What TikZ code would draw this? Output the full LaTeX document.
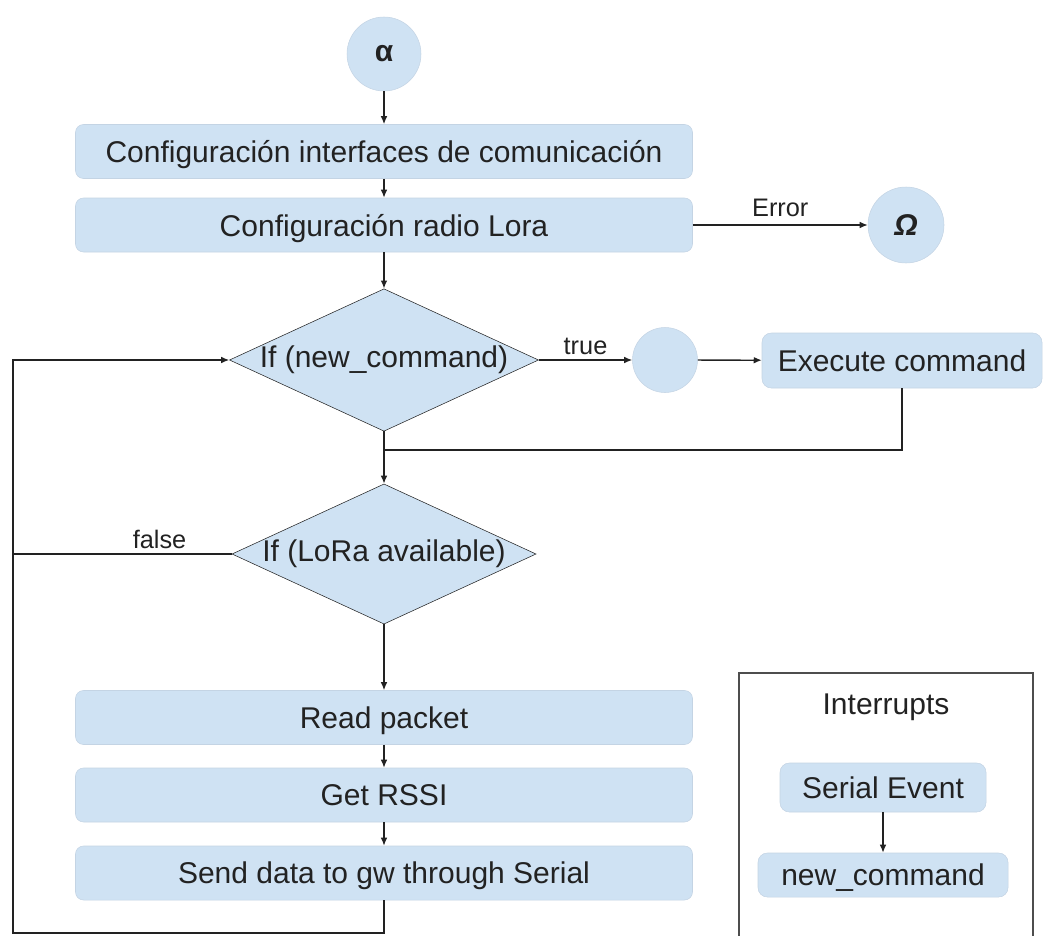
\documentclass[tikz,border=0pt]{standalone}
\usepackage{fontspec}
\setmainfont{Liberation Sans}
\usetikzlibrary{arrows.meta,shapes.geometric}
\definecolor{boxblue}{RGB}{207,226,243}
\definecolor{boxedge}{RGB}{196,212,228}
\definecolor{inkgray}{RGB}{34,34,34}

\begin{document}
\begin{tikzpicture}[x=0.75pt,y=0.75pt,yscale=-1,xscale=1,
  every node/.style={inner sep=0.75pt, text=inkgray, font=\fontsize{22.5}{26}\selectfont},
  blockbox/.style={draw=boxedge, fill=boxblue, rounded corners=6pt, text depth=0pt, minimum width=462.75pt, minimum height=40.5pt},
  smallbox/.style={draw=boxedge, fill=boxblue, rounded corners=7pt, text depth=0pt},
  decision/.style={diamond, draw=inkgray, fill=boxblue, inner sep=0pt, shape aspect=2.17, minimum width=228pt, minimum height=105pt},
  terminal/.style={circle, draw=boxedge, fill=boxblue, inner sep=0pt},
  edgelabel/.style={font=\fontsize{19}{22}\selectfont},
  flow/.style={draw=inkgray, line width=1pt},
  arr/.style={flow, -{Latex[length=6pt,width=5pt]}}
]
\useasboundingbox (0,0) rectangle (1044,935);

%Shape: Circle (start)
\node [terminal, minimum size=55.5pt] (alpha) at (384,54) {\textbf{α}};
%Shape: Rectangle
\node [blockbox] (confif) at (384,151.5) {Configuración interfaces de comunicación};
%Shape: Rectangle
\node [blockbox] (confradio) at (384,225) {Configuración radio Lora};
%Shape: Circle (end)
\node [terminal, minimum size=57pt] (omega) at (906,225) {\textbf{\textit{Ω}}};

%Shape: Diamond
\node [decision] (ifcmd) at (384,360) {If (new\_command)};
%Shape: Circle
\node [terminal, minimum size=48.75pt] (hub) at (665,360) {};
%Shape: Rectangle
\node [smallbox, minimum width=210pt, minimum height=41.25pt] (exec) at (902,360.5) {Execute command};

%Shape: Diamond
\node [decision] (iflora) at (384,554) {If (LoRa available)};

%Shape: Rectangle
\node [blockbox] (readpkt) at (384,717.5) {Read packet};
%Shape: Rectangle
\node [blockbox] (rssi) at (384,795) {Get RSSI};
%Shape: Rectangle
\node [blockbox] (senddata) at (384,873) {Send data to gw through Serial};

%Shape: Frame (interrupts)
\draw [draw=inkgray!80, line width=1pt] (739,945) -- (739,673) -- (1033,673) -- (1033,945);
% Text Node
\node (inttitle) at (886,707) {Interrupts};
%Shape: Rectangle
\node [smallbox, minimum width=154.5pt, minimum height=36.75pt] (serialev) at (883,787.5) {Serial Event};
%Shape: Rectangle
\node [smallbox, minimum width=187.5pt, minimum height=33pt] (newcmd) at (883,875) {new\_command};

%Coordinates for the return lines
\coordinate (join) at (384,450);
\coordinate (rail) at (13,554);
\coordinate (railbottom) at (13,933);

%Straight Lines
\draw [arr] (alpha) -- (confif);
\draw [arr] (confif) -- (confradio);
\draw [arr] (confradio) -- (ifcmd);
\draw [arr] (confradio.east) -- (omega) node [midway, above=5pt, edgelabel] {Error};
\draw [arr] (ifcmd) -- (hub) node [midway, above=3pt, edgelabel] {true};
\draw [arr] (hub) -- (exec);
\draw [flow] (exec.south) |- (join);
\draw [arr] (ifcmd) -- (iflora);
\draw [arr] (iflora.west) -- (rail) node [pos=0.33, above=3pt, edgelabel] {false} |- (ifcmd.west);
\draw [arr] (iflora) -- (readpkt);
\draw [arr] (readpkt) -- (rssi);
\draw [arr] (rssi) -- (senddata);
\draw [flow] (senddata.south) |- (railbottom) -- (rail);
\draw [arr] (serialev) -- (newcmd);

\end{tikzpicture}
\end{document}
